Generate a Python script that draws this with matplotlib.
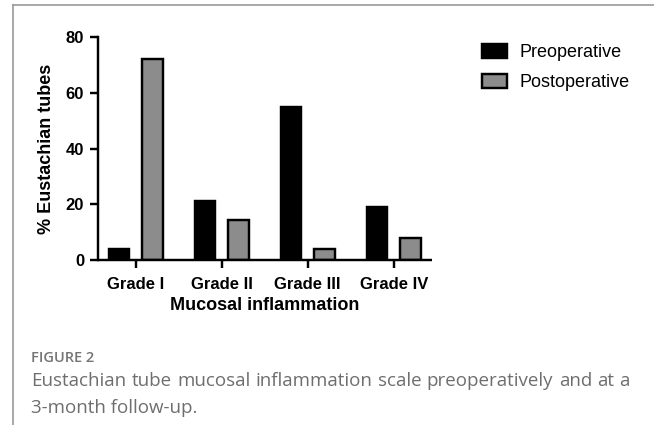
import numpy as np
import matplotlib
matplotlib.use("Agg")
import matplotlib.pyplot as plt
from matplotlib.patches import Patch
from matplotlib.lines import Line2D

grades = ["Grade I", "Grade II", "Grade III", "Grade IV"]
preop = [4, 21, 55, 19]
postop = [72, 14.5, 4, 8]
series_names = ["Preoperative", "Postoperative"]
yticks = [0, 20, 40, 60, 80]

plt.rcParams["font.family"] = ["Liberation Sans", "DejaVu Sans"]

W, H = 654, 425
fig = plt.figure(figsize=(W / 100, H / 100), dpi=100)

# gray frame lines (top and left) of the figure panel
fig.add_artist(Line2D([13 / W, 1], [1 - 5 / H, 1 - 5 / H], color="#9a9a9a", lw=1.2))
fig.add_artist(Line2D([13 / W, 13 / W], [0, 1 - 5 / H], color="#9a9a9a", lw=1.2))

lw = 1.75
ax = fig.add_axes([98 / W, 1 - 260 / H, (432 - 98) / W, (260 - 37) / H])
x = np.arange(len(grades))
bw = 0.235
off = 0.195
ax.bar(x - off, preop, bw, color="black", edgecolor="black", linewidth=lw)
ax.bar(x + off, postop, bw, color="#8c8c8c", edgecolor="black", linewidth=lw)

ax.set_xlim(-0.438, 3.445)
ax.set_ylim(0, 80)
ax.set_yticks(yticks)
ax.set_xticks(x)
ax.set_xticklabels(grades, fontsize=12, fontweight="bold")
for lab in ax.get_yticklabels():
    lab.set_fontsize(12)
    lab.set_fontweight("bold")
ax.tick_params(axis="both", width=lw, length=6)
ax.tick_params(axis="x", pad=6)
ax.tick_params(axis="y", pad=4)
for s in ["top", "right"]:
    ax.spines[s].set_visible(False)
for s in ["left", "bottom"]:
    ax.spines[s].set_linewidth(lw)
ax.spines["bottom"].set_capstyle("butt")

ax.set_xlabel("Mucosal inflammation", fontsize=13, fontweight="bold", labelpad=4)
ax.set_ylabel("% Eustachian tubes", fontsize=13, fontweight="bold", labelpad=8)

handles = [Patch(facecolor="black", edgecolor="black", linewidth=lw),
           Patch(facecolor="#8c8c8c", edgecolor="black", linewidth=lw)]
fig.legend(handles, series_names, loc="center left",
           bbox_to_anchor=(482 / W, 1 - 67.5 / H), frameon=False, fontsize=13,
           handlelength=1.4, handleheight=0.8, handletextpad=0.65,
           labelspacing=0.7, borderpad=0, borderaxespad=0)

cap = ["Open Sans", "DejaVu Sans"]
fig.text(31 / W, 1 - 362 / H, "FIGURE 2", family=cap, fontsize=10.5,
         fontweight="semibold", color="#747474", va="baseline")

line1 = "Eustachian tube mucosal inflammation scale preoperatively and at a"
words = line1.split()
fig.canvas.draw()
r = fig.canvas.get_renderer()
tw = []
for w in words:
    t = fig.text(0, 0, w, family=cap, fontsize=13.5)
    tw.append(t.get_window_extent(r).width)
    t.remove()
x0, x1 = 31, 630
gap = (x1 - x0 - sum(tw)) / (len(words) - 1)
xp = x0
for w, wd in zip(words, tw):
    fig.text(xp / W, 1 - 386 / H, w, family=cap, fontsize=13.5,
             color="#6e6e6e", va="baseline")
    xp += wd + gap
fig.text(31 / W, 1 - 413 / H, "3-month follow-up.", family=cap, fontsize=13.5,
         color="#6e6e6e", va="baseline")

fig.savefig("out.png", dpi=100)
